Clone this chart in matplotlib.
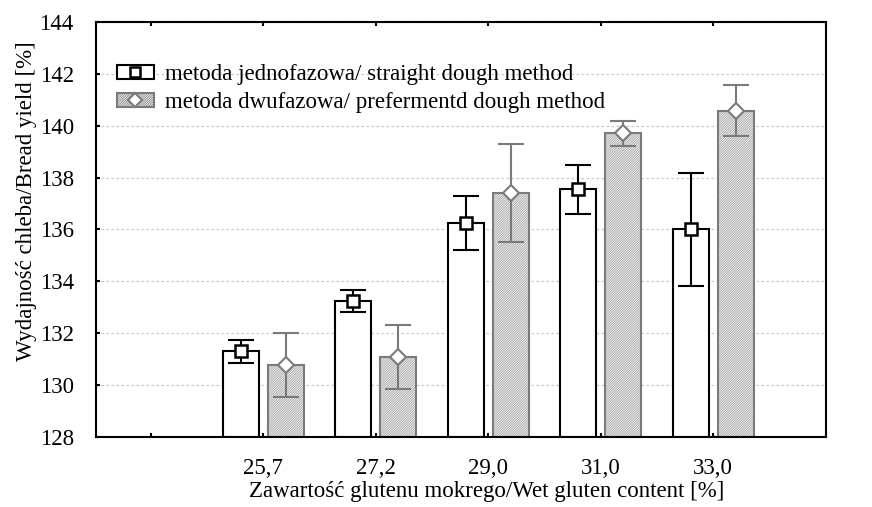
import numpy as np
import matplotlib.pyplot as plt
from matplotlib.patches import Patch
from matplotlib.lines import Line2D

plt.rcParams['font.family'] = ['Liberation Serif', 'DejaVu Serif']
plt.rcParams['hatch.linewidth'] = 0.5

# dane
kategorie = ['25,7', '27,2', '29,0', '31,0', '33,0']
jednofazowa = [131.3, 133.25, 136.25, 137.55, 136.0]
jednofazowa_err = [0.43, 0.43, 1.03, 0.95, 2.17]
dwufazowa = [130.78, 131.1, 137.42, 139.71, 140.58]
dwufazowa_err = [1.22, 1.23, 1.89, 0.48, 0.97]

x = np.arange(1, len(kategorie) + 1)
szer = 0.32
off = 0.2
szary = '#7a7a7a'
wzor = '/' * 14
fs = 16.5

fig = plt.figure(figsize=(8.72, 5.07), dpi=100)
ax = fig.add_axes([0.110, 0.138, 0.837, 0.819])

ax.bar(x - off, [v - 128 for v in jednofazowa], szer, bottom=128,
       color='white', edgecolor='black', linewidth=1.5, zorder=2)
# wypełnienie kreskowane + osobny obrys
ax.bar(x + off, [v - 128 for v in dwufazowa], szer, bottom=128,
       color='#ececec', edgecolor='#a2a2a2', linewidth=0, hatch=wzor, zorder=2)
ax.bar(x + off, [v - 128 for v in dwufazowa], szer, bottom=128,
       fill=False, edgecolor=szary, linewidth=1.5, zorder=2)

ax.errorbar(x - off, jednofazowa, yerr=jednofazowa_err, fmt='none',
            ecolor='black', elinewidth=1.5, capsize=9.5, capthick=1.5, zorder=3)
ax.errorbar(x + off, dwufazowa, yerr=dwufazowa_err, fmt='none',
            ecolor=szary, elinewidth=1.5, capsize=9.5, capthick=1.5, zorder=3)
ax.plot(x - off, jednofazowa, 's', ms=9, mfc='white', mec='black', mew=1.8,
        linestyle='none', zorder=4)
ax.plot(x + off, dwufazowa, 'D', ms=8, mfc='white', mec=szary, mew=1.5,
        linestyle='none', zorder=4)

ax.set_xlim(-0.486, 6.0)
ax.set_ylim(128, 144)
ax.set_xticks(range(0, 7))
ax.set_xticklabels([''] + kategorie + [''])
ax.set_yticks(range(128, 145, 2))
ax.tick_params(axis='both', direction='in', length=3, width=1.5, labelsize=fs)
ax.tick_params(axis='x', top=True, pad=15)
ax.tick_params(axis='y', pad=16)
for s in ax.spines.values():
    s.set_linewidth(1.5)

ax.yaxis.grid(True, linestyle=(0, (2, 2)), color='#c8c8c8', linewidth=0.9)
ax.set_axisbelow(True)

ax.set_xlabel('Zawartość glutenu mokrego/Wet gluten content [%]', fontsize=fs)
ax.xaxis.set_label_coords(0.536, -0.106)
ax.set_ylabel('Wydajność chleba/Bread yield [%]', fontsize=fs)
ax.yaxis.set_label_coords(-0.081, 0.569)

h1 = (Patch(facecolor='white', edgecolor='black', linewidth=1.5),
      Line2D([], [], marker='s', ms=7, mfc='white', mec='black', mew=1.8, linestyle='none'))
h2 = (Patch(facecolor='#ececec', edgecolor=szary, linewidth=1.5, hatch=wzor),
      Line2D([], [], marker='D', ms=7, mfc='white', mec=szary, mew=1.5, linestyle='none'))
ax.legend([h1, h2], ['metoda jednofazowa/ straight dough method',
                     'metoda dwufazowa/ prefermentd dough method'],
          loc='upper left', bbox_to_anchor=(0.029, 0.898), frameon=False,
          fontsize=fs, handlelength=1.6, handleheight=0.6,
          labelspacing=0.3, handletextpad=0.5, borderpad=0, borderaxespad=0)

fig.savefig('out.png', dpi=100)
